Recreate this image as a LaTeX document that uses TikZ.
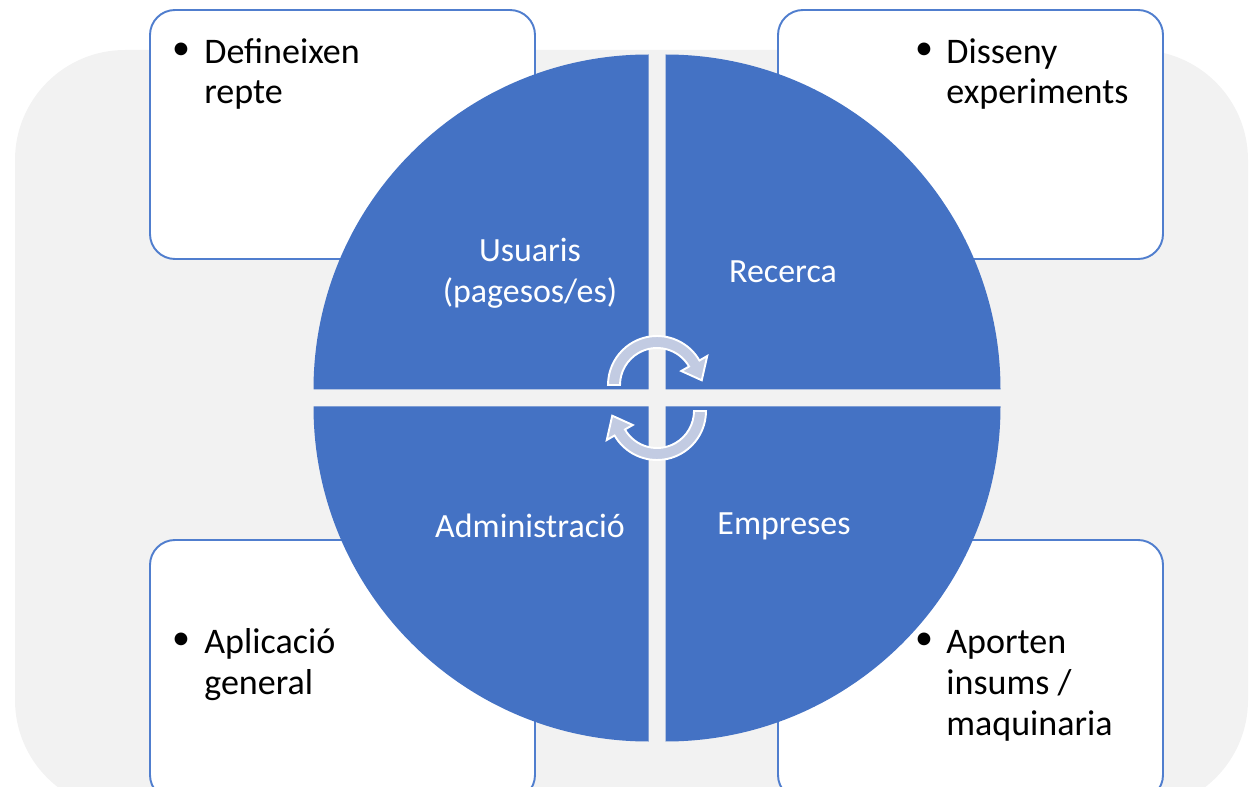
\documentclass[tikz,border=0pt]{standalone}
\usepackage{fontspec}
\setmainfont{Carlito}
\usepackage{tikz}
\usetikzlibrary{positioning,calc}
\definecolor{quadblue}{RGB}{68,114,196}
\definecolor{boxblue}{RGB}{80,126,206}
\definecolor{backgray}{RGB}{242,242,242}
\definecolor{cyclefill}{RGB}{194,203,226}
\tikzset{
back/.style = {fill=backgray, rounded corners=2.2cm},
notebox/.style = {draw=boxblue, line width=1.1pt, fill=white, rounded corners=0.5cm},
quad/.style = {fill=quadblue},
quadlabel/.style = {text=white, align=center, inner sep=0pt, font=\fontsize{19.3}{23.2}\selectfont},
notetext/.style = {align=left, anchor=base west, inner sep=0pt, font=\fontsize{20.5}{23.3}\selectfont},
bullet/.style = {inner sep=0pt, font=\fontsize{20.5}{23.3}\selectfont},
cyclearrow/.style = {fill=cyclefill, draw=white, line width=1.1pt, line join=miter}
}
\begin{document}
\begin{tikzpicture}[x=0.02cm, y=0.02cm]

                \useasboundingbox (0,0) rectangle (1252,-787);
                \clip (0,0) rectangle (1252,-787);
                \fill [back] (15,-50) rectangle (1248,-810);

                % side boxes
                \draw [notebox] (150,-10) rectangle (535,-259);
                \draw [notebox] (778,-10) rectangle (1163,-259);
                \draw [notebox] (150,-540) rectangle (535,-800);
                \draw [notebox] (778,-540) rectangle (1163,-800);

                % four quarters of the circle
                \coordinate (ne) at (665.5,-389.5);
                \coordinate (nw) at (648.5,-389.5);
                \coordinate (sw) at (648.5,-406.5);
                \coordinate (se) at (665.5,-406.5);
                \fill [quad] (ne) -- ++(0:335) arc (0:90:335) -- cycle;
                \fill [quad] (nw) -- ++(90:335) arc (90:180:335) -- cycle;
                \fill [quad] (sw) -- ++(180:335) arc (180:270:335) -- cycle;
                \fill [quad] (se) -- ++(270:335) arc (270:360:335) -- cycle;

                \node [quadlabel] (users) at (530,-273) {Usuaris\\(pagesos/es)};
                \node [quadlabel] (research) at (783,-272) {Recerca};
                \node [quadlabel] (admin) at (530,-526) {Administració};
                \node [quadlabel] (firms) at (784,-526) {Empreses};

                % cycle arrows
                \begin{scope}[shift={(657,-385)}]
                \draw [cyclearrow] (180:49) arc (180:30:49) -- (30:58) -- (6:45) -- (30:28) -- (30:37) arc (30:180:37) -- cycle;
                \end{scope}
                \begin{scope}[shift={(657,-411)}, rotate=180]
                \draw [cyclearrow] (180:49) arc (180:30:49) -- (30:58) -- (6:45) -- (30:28) -- (30:37) arc (30:180:37) -- cycle;
                \end{scope}

                % box texts (base = last line)
                \node [bullet] (b1) at (181,-51) {\textbullet};
                \node [notetext] (t1) at (204,-104) {Defineixen\\repte};
                \node [bullet] (b2) at (924,-51) {\textbullet};
                \node [notetext] (t2) at (946,-104) {Disseny\\experiments};
                \node [bullet] (b3) at (181,-641) {\textbullet};
                \node [notetext] (t3) at (204,-694) {Aplicació\\general};
                \node [bullet] (b4) at (924,-641) {\textbullet};
                \node [notetext] (t4) at (946,-735) {Aporten\\insums /\\maquinaria};
            \end{tikzpicture}
\end{document}
